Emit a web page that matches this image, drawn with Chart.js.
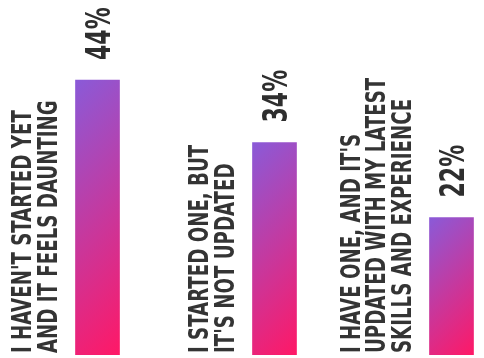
<!DOCTYPE html>
<html>
<head>
<meta charset="utf-8">
<script src="https://cdn.jsdelivr.net/npm/chart.js@4/dist/chart.umd.min.js"></script>
<style>
  html, body { margin: 0; padding: 0; background: #fff; overflow: hidden; }
  #wrap { width: 540px; height: 358px; }
</style>
</head>
<body>
<div id="wrap"><canvas id="chart" width="540" height="358"></canvas></div>
<script>
const categories = [
    ["I HAVEN'T STARTED YET", "AND IT FEELS DAUNTING"],
    ["I STARTED ONE, BUT", "IT'S NOT UPDATED"],
    ["I HAVE ONE, AND IT'S", "UPDATED WITH MY LATEST", "SKILLS AND EXPERIENCE"]
];
const percentages = [44, 34, 22];
const valueLabels = ["44%", "34%", "22%"];

const purple = "#8a5ad8";
const pink = "#ff1866";
const textColor = "#343434";

function barGradient(context) {
    const chart = context.chart;
    if (!chart.chartArea) return pink;
    const xScale = chart.scales.x;
    const yScale = chart.scales.y;
    const half = 22;
    const left = xScale.getPixelForValue(context.dataIndex) - half;
    const top = yScale.getPixelForValue(context.raw);
    const bottom = yScale.getPixelForValue(0);
    const d = (half * 2 + (bottom - top)) / 2;
    const g = chart.ctx.createLinearGradient(left, top, left + d, top + d);
    g.addColorStop(0, purple);
    g.addColorStop(1, pink);
    return g;
}

const rotatedLabels = {
    id: "rotatedLabels",
    afterDatasetsDraw(chart) {
        const ctx = chart.ctx;
        const meta = chart.getDatasetMeta(0);
        meta.data.forEach((bar, i) => {
            const left = bar.x - bar.width / 2;

            // value above the bar
            ctx.save();
            ctx.fillStyle = "#2e2e2e";
            ctx.font = "bold 34px 'DejaVu Sans Condensed', 'DejaVu Sans', sans-serif";
            ctx.textBaseline = "alphabetic";
            ctx.textAlign = "left";
            ctx.translate(bar.x + 12, bar.y - 20);
            ctx.rotate(-Math.PI / 2);
            ctx.scale(0.72, 1);
            ctx.fillText(valueLabels[i], 0, 0);
            ctx.restore();

            // category lines left of the bar
            const lines = categories[i];
            ctx.save();
            ctx.fillStyle = textColor;
            ctx.font = "bold 27px 'DejaVu Sans Condensed', 'DejaVu Sans', sans-serif";
            ctx.textBaseline = "alphabetic";
            ctx.textAlign = "left";
            lines.forEach((line, j) => {
                const baseX = left - 19 - (lines.length - 1 - j) * 25.5;
                ctx.save();
                ctx.translate(baseX, 353);
                ctx.rotate(-Math.PI / 2);
                ctx.scale(0.75, 1);
                ctx.fillText(line, 0, 0);
                ctx.restore();
            });
            ctx.restore();
        });
    }
};

new Chart(document.getElementById("chart"), {
    type: "bar",
    data: {
        labels: categories,
        datasets: [{
            data: percentages,
            backgroundColor: barGradient,
            borderWidth: 0,
            barThickness: 44
        }]
    },
    options: {
        responsive: false,
        animation: false,
        layout: { padding: { left: 9, right: 0, top: 0, bottom: 3 } },
        plugins: {
            legend: { display: false },
            tooltip: { enabled: false }
        },
        scales: {
            x: { display: false },
            y: { display: false, min: 0, max: 56.8 }
        }
    },
    plugins: [rotatedLabels]
});
</script>
</body>
</html>
